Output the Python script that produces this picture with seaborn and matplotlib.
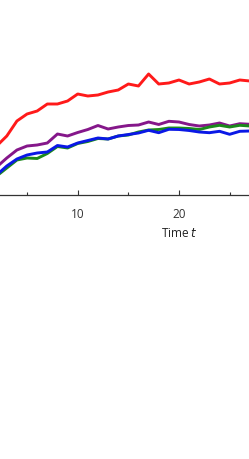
import matplotlib
matplotlib.use("Agg")
import matplotlib.pyplot as plt
import seaborn as sns
import numpy as np
import pandas as pd

# --- DATA ---
time_steps = list(range(2, 28))

red_vals = [0.49, 0.59, 0.74, 0.81, 0.84, 0.91, 0.91, 0.94, 1.01, 0.99,
            1.00, 1.03, 1.05, 1.11, 1.09, 1.21, 1.11, 1.12, 1.15, 1.11,
            1.13, 1.16, 1.11, 1.12, 1.15, 1.14]
purple_vals = [0.28, 0.37, 0.45, 0.49, 0.50, 0.52, 0.61, 0.59, 0.625, 0.655,
               0.695, 0.66, 0.68, 0.695, 0.70, 0.73, 0.705, 0.737, 0.73, 0.705,
               0.69, 0.70, 0.72, 0.69, 0.713, 0.707]
green_vals = [0.19, 0.27, 0.35, 0.37, 0.365, 0.415, 0.485, 0.47, 0.515, 0.535,
              0.565, 0.56, 0.59, 0.60, 0.63, 0.65, 0.655, 0.67, 0.67, 0.665,
              0.655, 0.68, 0.697, 0.68, 0.697, 0.69]
blue_vals = [0.20, 0.29, 0.36, 0.40, 0.42, 0.43, 0.495, 0.48, 0.52, 0.545,
             0.57, 0.56, 0.59, 0.605, 0.62, 0.647, 0.623, 0.657, 0.655, 0.645,
             0.63, 0.623, 0.637, 0.607, 0.637, 0.64]

major_ticks = [10, 20]
minor_ticks = [5, 15, 25]

series = {"red": red_vals, "purple": purple_vals, "green": green_vals, "blue": blue_vals}
colors = {"red": "#ff1a1a", "purple": "#85178a", "green": "#1b8a1b", "blue": "#0a18e6"}

df = pd.concat(
    [pd.DataFrame({"t": time_steps, "value": v, "series": k}) for k, v in series.items()],
    ignore_index=True,
)

# --- STYLE ---
sns.set_style("white")
plt.rcParams.update({
    "font.family": ["Open Sans", "DejaVu Sans"],
    "mathtext.fontset": "dejavusans",
})

fig = plt.figure(figsize=(2.49, 4.59), dpi=100)
# axes runs off the left/right of the (cropped) canvas
ax = fig.add_axes([-23.6 / 249, (459 - 195) / 459, 405.2 / 249, 195 / 459])

sns.lineplot(data=df, x="t", y="value", hue="series", palette=colors,
             hue_order=["red", "purple", "green", "blue"],
             linewidth=2.1, legend=False, ax=ax)

ax.set_xlim(0, 40)
ax.set_ylim(0, 1.95)
ax.set_xticks(major_ticks)
ax.set_xticks(minor_ticks, minor=True)
ax.set_yticks([])
ax.tick_params(axis="x", which="major", direction="in", length=3.6, width=0.8,
               colors="#333333", labelsize=8.5, pad=9, bottom=True)
ax.tick_params(axis="x", which="minor", direction="in", length=2.4, width=0.8,
               colors="#333333", bottom=True)
for side in ["top", "right", "left"]:
    ax.spines[side].set_visible(False)
ax.spines["bottom"].set_color("#333333")
ax.spines["bottom"].set_linewidth(0.9)

ax.set_xlabel("Time $t$", fontsize=8.5, color="#222222", labelpad=5)
ax.set_ylabel("")

fig.savefig("out.png", dpi=100)
